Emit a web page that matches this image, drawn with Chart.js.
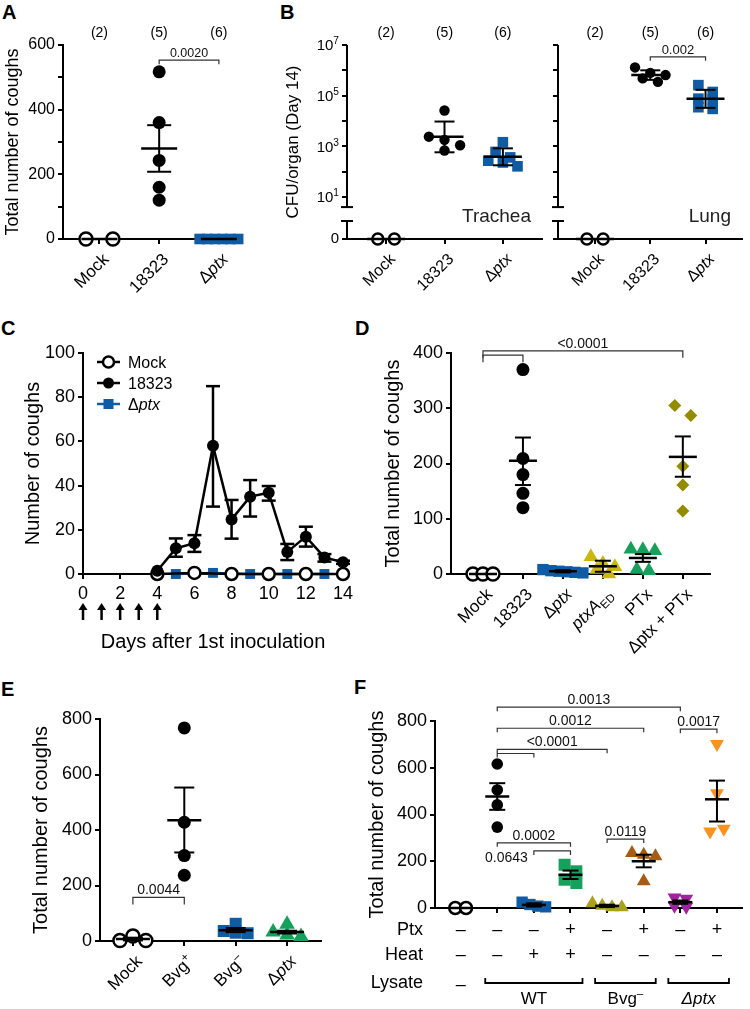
<!DOCTYPE html>
<html>
<head>
<meta charset="utf-8">
<script src="https://cdn.jsdelivr.net/npm/chart.js@4/dist/chart.umd.min.js"></script>
<style>
  body { margin: 0; background: #fff; width: 750px; height: 1009px; position: relative; overflow: hidden; font-family: 'Liberation Sans', Arial, sans-serif; }
  canvas { position: absolute; }
  .panel { position: absolute; font-weight: bold; font-size: 20px; line-height: 1; }
</style>
</head>
<body>
<div class="panel" style="left:2px;top:2px">A</div>
<div class="panel" style="left:280px;top:2px">B</div>
<div class="panel" style="left:1px;top:318px">C</div>
<div class="panel" style="left:355px;top:318px">D</div>
<div class="panel" style="left:1px;top:679px">E</div>
<div class="panel" style="left:354px;top:677px">F</div>

<canvas id="chartA" width="250" height="330" style="left:0;top:0"></canvas>
<canvas id="chartB1" width="310" height="330" style="left:240px;top:0"></canvas>
<canvas id="chartB2" width="200" height="330" style="left:550px;top:0"></canvas>
<canvas id="chartC" width="370" height="330" style="left:0;top:330px"></canvas>
<canvas id="chartD" width="380" height="340" style="left:370px;top:330px"></canvas>
<canvas id="chartE" width="330" height="359" style="left:0;top:650px"></canvas>
<canvas id="chartF" width="410" height="359" style="left:340px;top:650px"></canvas>

<script>
// ---------- data ----------

// A: total coughs per rat
const aGroups = ['Mock', '18323', 'Δ*ptx*'];
const aCounts = ['(2)', '(5)', '(6)'];
const aMock = [0, 0];
const a18323 = [517, 360, 243, 160, 120];
const aDptx = [0, 0, 0, 0, 0, 0];
const aMean = [0, 280, 0];
const aHigh = [0, 352, 0];
const aLow = [0, 208, 0];
const aYTicks = [0, 100, 200, 300, 400, 500, 600];
const aPValues = [{ from: 1, to: 2, at: 553, text: '0.0020' }];

// B: CFU per organ on day 14 (0 = below detection, drawn on the broken part of the axis)
const bGroups = ['Mock', '18323', 'Δ*ptx*'];
const bCounts = ['(2)', '(5)', '(6)'];
const bTracheaMock = [0, 0];
const bTrachea18323 = [26000, 2400, 1800, 1100, 680];
const bTracheaDptx = [1450, 600, 365, 270, 230, 162];
const bTracheaMean = [0, 2400, 390];
const bTracheaHigh = [0, 9500, 830];
const bTracheaLow = [0, 580, 178];
const bLungMock = [0, 0];
const bLung18323 = [1300000, 790000, 650000, 480000, 350000];
const bLungDptx = [260000, 140000, 76000, 70000, 35000, 30000];
const bLungMean = [0, 650000, 76000];
const bLungHigh = [0, 1000000, 170000];
const bLungLow = [0, 420000, 33000];
const bExpTicks = [1, 2, 3, 4, 5, 6, 7];
const bExpLabels = { 1: '10^{1}', 3: '10^{3}', 5: '10^{5}', 7: '10^{7}' };
const bLungPValues = [{ from: 1, to: 2, at: 3400000, text: '0.002' }];

// C: daily coughs
const cMockDays = [4, 6, 8, 10, 12, 14];
const cMock = [0, 0.5, 0, 0, 0, 0];
const c18323Days = [4, 5, 6, 7, 8, 9, 10, 11, 12, 13, 14];
const c18323 = [1.5, 11.6, 13.9, 58, 24.7, 35, 36.8, 10, 16.9, 7.5, 5.3];
const c18323High = [2, 16.1, 17.6, 85, 33.5, 42.5, 39.8, 13.6, 21.4, 9, 6];
const c18323Low = [1, 7.8, 10, 30.5, 16, 26, 33.2, 6.3, 12.4, 5.6, 4.6];
const cDptxDays = [5, 7, 9, 11, 13];
const cDptx = [0, 0.5, 0, 0, 0];
const cInoculationDays = [0, 1, 2, 3, 4];

// D
const dGroups = ['Mock', '18323', 'Δ*ptx*', '*ptxA*_{ED}', 'PTx', 'Δptx + PTx'];
const dMock = [0, 0, 0];
const d18323 = [370, 209, 180, 146, 120];
const dDptx = [8, 6, 5, 4, 3, 2];
const dPtxAed = [31, 19, 13, 8, 0];
const dPTx = [45, 44, 42, 8, 6];
const dDptxPTx = [305, 287, 195, 161, 114];
const dMean = [0, 205, 5, 14, 29, 212];
const dHigh = [0, 247, 7, 24, 36, 249];
const dLow = [0, 161, 3, 4, 22, 176];
const dYTicks = [0, 100, 200, 300, 400];
const dPValues = [
  { from: 0, to: 5, at: 404, text: '<0.0001' },
  { from: 0, to: 1, at: 396, text: '' }
];

// E
const eGroups = ['Mock', 'Bvg^{+}', 'Bvg^{–}', 'Δ*ptx*'];
const eMock = [2, 18, 2];
const eBvgPlus = [768, 428, 308, 237];
const eBvgMinus = [62, 36, 30, 28];
const eDptx = [60, 32, 22, 16];
const eMean = [7, 435, 39, 32];
const eHigh = [12, 553, 47, 37];
const eLow = [2, 319, 32, 27];
const eYTicks = [0, 200, 400, 600, 800];
const ePValues = [{ from: 0, to: 1, at: 157, text: '0.0044' }];

// F
const fMock = [0, 0];
const fWT = [616, 505, 441, 346];
const fWTHeat = [25, 15, 8, 5];
const fWTHeatPtx = [185, 157, 121, 107];
const fBvgMinus = [20, 10, 3, 3];
const fBvgMinusPtx = [235, 228, 221, 114];
const fDptx = [45, 40, 10, 5];
const fDptxPtx = [702, 491, 327, 339];
const fMean = [0, 477, 13, 142, 9, 200, 25, 465];
const fHigh = [0, 534, 20, 160, 14, 228, 32, 545];
const fLow = [0, 420, 6, 124, 4, 174, 18, 370];
const fYTicks = [0, 200, 400, 600, 800];
const fPtx = ['–', '–', '–', '+', '–', '+', '–', '+'];
const fHeat = ['–', '–', '+', '+', '–', '–', '–', '–'];
const fLysate = [
  { text: '–', from: 0, to: 0 },
  { text: 'WT', from: 1, to: 3 },
  { text: 'Bvg^{–}', from: 4, to: 5 },
  { text: '*Δptx*', from: 6, to: 7 }
];
const fPValues = [
  { from: 1, to: 6, at: 859, text: '0.0013' },
  { from: 1, to: 5, at: 769, text: '0.0012' },
  { from: 1, to: 4, at: 679, text: '<0.0001' },
  { from: 1, to: 2, at: 661, text: '' },
  { from: 6, to: 7, at: 765, text: '0.0017' },
  { from: 1, to: 3, at: 279, text: '0.0002' },
  { from: 2, to: 3, at: 244, text: '0.0643', side: 'left' },
  { from: 4, to: 5, at: 295, text: '0.0119' }
];

// ---------- styling ----------
const FONT = "'Liberation Sans', Arial, Helvetica, sans-serif";
const BLACK = '#000';
const BLUE = '#0f5ca5';
const GREEN = '#15a05b';
const YELLOW = '#cbb80e';
const OLIVE = '#948c00';
const OLIVE2 = '#aba21c';
const BROWN = '#a65c14';
const PURPLE = '#a0239f';
const ORANGE = '#f7931e';

Chart.defaults.font.family = FONT;
Chart.defaults.color = BLACK;

const ZERO_LOG = -0.66; // axis position of "0" below the log break
function logOrZero(v) { return v > 0 ? Math.log10(v) : ZERO_LOG; }

// tiny markup: *italic*, _{sub}, ^{sup}
function parseRich(s) {
  const parts = [];
  const re = /\*([^*]+)\*|_\{([^}]+)\}|\^\{([^}]+)\}|([^*_^]+)/g;
  let m;
  while ((m = re.exec(s))) {
    if (m[1]) parts.push({ t: m[1], italic: true });
    else if (m[2]) parts.push({ t: m[2], sub: true });
    else if (m[3]) parts.push({ t: m[3], sup: true });
    else parts.push({ t: m[4] });
  }
  return parts;
}

function drawRich(ctx, s, x, y, size, align) {
  const parts = parseRich(s);
  let total = 0;
  const runs = parts.map(p => {
    const sz = (p.sub || p.sup) ? size * 0.68 : size;
    const font = (p.italic ? 'italic ' : '') + sz + 'px ' + FONT;
    ctx.font = font;
    const w = ctx.measureText(p.t).width;
    total += w;
    return { font, w, dy: p.sub ? size * 0.25 : (p.sup ? -size * 0.4 : 0) };
  });
  let cx = align === 'right' ? x - total : (align === 'center' ? x - total / 2 : x);
  ctx.textAlign = 'left';
  parts.forEach((p, i) => {
    ctx.font = runs[i].font;
    ctx.fillText(p.t, cx, y + runs[i].dy);
    cx += runs[i].w;
  });
}

function line(ctx, x1, y1, x2, y2) {
  ctx.beginPath();
  ctx.moveTo(x1, y1);
  ctx.lineTo(x2, y2);
  ctx.stroke();
}

// spread points with near-equal values side by side
function rowOffsets(vals, pxPerY, gap, step) {
  const order = vals.map((v, i) => i).sort((a, b) => vals[b] - vals[a]);
  const offs = vals.map(() => 0);
  let row = [];
  const flush = () => {
    row.sort((a, b) => a - b);
    row.forEach((k, j) => { offs[k] = (j - (row.length - 1) / 2) * step; });
    row = [];
  };
  order.forEach(k => {
    if (row.length && (vals[row[0]] - vals[k]) * pxPerY > gap) flush();
    row.push(k);
  });
  flush();
  return offs;
}

function gridOpts() {
  return { drawOnChartArea: false, drawTicks: true, tickLength: 5, color: BLACK, lineWidth: 2 };
}

function drawBrackets(ctx, chart, list, tf, size, tick) {
  const xs = chart.scales.x, ys = chart.scales.y;
  ctx.save();
  ctx.strokeStyle = '#333';
  ctx.fillStyle = '#111';
  ctx.lineWidth = 1.2;
  list.forEach(b => {
    const x1 = xs.getPixelForValue(b.from), x2 = xs.getPixelForValue(b.to);
    const y = ys.getPixelForValue(tf(b.at));
    ctx.beginPath();
    ctx.moveTo(x1, y + tick);
    ctx.lineTo(x1, y);
    ctx.lineTo(x2, y);
    ctx.lineTo(x2, y + tick);
    ctx.stroke();
    if (!b.text) return;
    ctx.font = size + 'px ' + FONT;
    if (b.side === 'left') {
      ctx.textAlign = 'right';
      ctx.textBaseline = 'middle';
      ctx.fillText(b.text, x1 - 6, y + 7);
    } else {
      ctx.textAlign = 'center';
      ctx.textBaseline = 'alphabetic';
      ctx.fillText(b.text, (x1 + x2) / 2, y - 3);
    }
  });
  ctx.restore();
}

function dotExtras(s) {
  const tf = s.transform || (v => v);
  return {
    id: 'dotExtras',
    afterDatasetsDraw(chart) {
      const ctx = chart.ctx, xs = chart.scales.x, ys = chart.scales.y;
      ctx.save();
      ctx.strokeStyle = BLACK;
      s.mean.forEach((m, i) => {
        const x = xs.getPixelForValue(i);
        const ym = ys.getPixelForValue(tf(m));
        ctx.lineWidth = 2.5;
        line(ctx, x - s.meanHalf, ym, x + s.meanHalf, ym);
        if (s.high[i] !== s.low[i]) {
          const yh = ys.getPixelForValue(tf(s.high[i]));
          const yl = ys.getPixelForValue(tf(s.low[i]));
          ctx.lineWidth = 2;
          line(ctx, x, yh, x, yl);
          line(ctx, x - s.capHalf, yh, x + s.capHalf, yh);
          line(ctx, x - s.capHalf, yl, x + s.capHalf, yl);
        }
      });
      ctx.restore();
    },
    afterDraw(chart) {
      const ctx = chart.ctx, xs = chart.scales.x, ys = chart.scales.y;
      const area = chart.chartArea;
      ctx.save();
      ctx.fillStyle = BLACK;
      ctx.textBaseline = 'alphabetic';
      if (s.showXLabels !== false) {
        s.groups.forEach((g, i) => {
          ctx.save();
          ctx.translate(xs.getPixelForValue(i) + 6, area.bottom + 17);
          ctx.rotate(-Math.PI / 4);
          drawRich(ctx, g, 0, s.labelSize * 0.35, s.labelSize, 'right');
          ctx.restore();
        });
      }
      if (s.expLabels) {
        // 10^n labels for the log axis, drawn with real superscripts
        Object.keys(s.expLabels).forEach(k => {
          const y = ys.getPixelForValue(Number(k));
          drawRich(ctx, s.expLabels[k], area.left - 8, y + s.tickSize * 0.36, s.tickSize, 'right');
        });
      }
      if (s.counts) {
        ctx.font = '14px ' + FONT;
        ctx.textAlign = 'center';
        ctx.textBaseline = 'middle';
        s.counts.forEach((c, i) => ctx.fillText(c, xs.getPixelForValue(i), area.top - 12));
      }
      if (s.brokenAxis) {
        const x = area.left;
        const yBreakTop = ys.getPixelForValue(0.6), yBreakLow = ys.getPixelForValue(0.05);
        ctx.strokeStyle = BLACK;
        ctx.lineWidth = 2;
        line(ctx, x, area.top, x, yBreakTop);
        line(ctx, x, yBreakLow, x, area.bottom + 1);
        line(ctx, x - 6, yBreakTop, x + 6, yBreakTop);
        line(ctx, x - 6, yBreakLow, x + 6, yBreakLow);
      }
      if (s.organ) {
        ctx.font = '19px ' + FONT;
        ctx.textAlign = 'right';
        ctx.textBaseline = 'middle';
        ctx.fillStyle = '#222';
        ctx.fillText(s.organ, area.right - 11, area.bottom - 22);
      }
      ctx.restore();
      if (s.brackets) drawBrackets(ctx, chart, s.brackets, tf, s.pSize, s.bracketTick);
      if (s.extra) s.extra(chart);
    }
  };
}

function makeDotChart(id, s) {
  const canvas = document.getElementById(id);
  const W = canvas.width, H = canvas.height;
  const a = s.area;
  const tf = s.transform || (v => v);
  const pxX = (a.right - a.left) / (s.xMax - s.xMin);
  const pxY = (a.bottom - a.top) / (s.yMax - s.yMin);
  const datasets = s.sets.map((set, gi) => {
    const ys = set.values.map(tf);
    const offs = rowOffsets(ys, pxY, set.gap || s.rowGap, set.step || 12);
    return {
      data: ys.map((y, k) => ({ x: gi + offs[k] / pxX, y })),
      pointStyle: set.shape,
      pointRadius: set.radius,
      pointRotation: set.rotation || 0,
      pointBackgroundColor: set.open ? '#fff' : set.color,
      pointBorderColor: set.open ? BLACK : set.color,
      pointBorderWidth: set.open ? 2.5 : 0,
      showLine: false,
      clip: false
    };
  });
  const padL = s.yTitle ? s.titleX - s.titleSize * 0.6 : 0;
  return new Chart(canvas, {
    type: 'scatter',
    data: { datasets },
    options: {
      responsive: false,
      animation: false,
      events: [],
      layout: { padding: { left: padL, top: a.top, right: W - a.right, bottom: 0 } },
      plugins: { legend: { display: false }, tooltip: { enabled: false } },
      scales: {
        x: {
          type: 'linear', min: s.xMin, max: s.xMax,
          afterBuildTicks: sc => { sc.ticks = s.groups.map((g, i) => ({ value: i })); },
          afterFit: sc => { sc.height = H - a.bottom; },
          ticks: { display: false },
          grid: gridOpts(),
          border: { color: BLACK, width: 2 }
        },
        y: {
          min: s.yMin, max: s.yMax,
          afterBuildTicks: sc => { sc.ticks = s.yTicks.map(v => ({ value: v })); },
          afterFit: sc => { sc.width = a.left - padL; },
          ticks: {
            display: s.showYLabels !== false,
            font: { size: s.tickSize }, color: BLACK, padding: 3,
            callback: s.yLabel || (v => String(v))
          },
          grid: gridOpts(),
          border: { display: !s.brokenAxis, color: BLACK, width: 2 },
          title: {
            display: !!s.yTitle, text: s.yTitle || '',
            font: { size: s.titleSize || 12 }, color: BLACK, padding: 0
          }
        }
      }
    },
    plugins: [dotExtras(s)]
  });
}

// ---------- A ----------
makeDotChart('chartA', {
  groups: aGroups, counts: aCounts,
  sets: [
    { values: aMock, shape: 'circle', radius: 6.5, open: true, step: 28 },
    { values: a18323, shape: 'circle', radius: 6.5, color: BLACK, step: 13 },
    { values: aDptx, shape: 'rect', radius: 7.5, color: BLUE, step: 8 }
  ],
  mean: aMean, high: aHigh, low: aLow, meanHalf: 18, capHalf: 12,
  area: { left: 63, top: 45, right: 248, bottom: 239 },
  xMin: -0.61, xMax: 2.37, yMin: 0, yMax: 600, yTicks: aYTicks,
  yLabel: v => (v % 200 === 0 ? String(v) : ''),
  yTitle: 'Total number of coughs', titleX: 13, titleSize: 18, tickSize: 16, labelSize: 17,
  rowGap: 12, brackets: aPValues, pSize: 12.5, bracketTick: 4
});

// ---------- B ----------
const bTicks = [ZERO_LOG].concat(bExpTicks);
const bLabel = v => (v === ZERO_LOG ? '0' : '');
makeDotChart('chartB1', {
  groups: bGroups, counts: bCounts, organ: 'Trachea', transform: logOrZero, brokenAxis: true,
  sets: [
    { values: bTracheaMock, shape: 'circle', radius: 5.5, open: true, step: 17 },
    { values: bTrachea18323, shape: 'circle', radius: 5.2, color: BLACK, step: 16, gap: 10 },
    { values: bTracheaDptx, shape: 'rect', radius: 7.5, color: BLUE, step: 15, gap: 8 }
  ],
  mean: bTracheaMean, high: bTracheaHigh, low: bTracheaLow, meanHalf: 19, capHalf: 10,
  area: { left: 107, top: 45, right: 307, bottom: 239 },
  xMin: -0.67, xMax: 2.67, yMin: ZERO_LOG, yMax: 7, yTicks: bTicks, yLabel: bLabel,
  expLabels: bExpLabels,
  yTitle: 'CFU/organ (Day 14)', titleX: 53, titleSize: 17, tickSize: 15, labelSize: 16,
  rowGap: 10
});
makeDotChart('chartB2', {
  groups: bGroups, counts: bCounts, organ: 'Lung', transform: logOrZero, brokenAxis: true,
  sets: [
    { values: bLungMock, shape: 'circle', radius: 5.5, open: true, step: 17 },
    { values: bLung18323, shape: 'circle', radius: 5.2, color: BLACK, step: 16 },
    { values: bLungDptx, shape: 'rect', radius: 7.5, color: BLUE, step: 15, gap: 8 }
  ],
  mean: bLungMean, high: bLungHigh, low: bLungLow, meanHalf: 19, capHalf: 10,
  area: { left: 5, top: 45, right: 198, bottom: 239 },
  xMin: -0.67, xMax: 2.66, yMin: ZERO_LOG, yMax: 7, yTicks: bTicks, showYLabels: false,
  tickSize: 15, labelSize: 16, rowGap: 10,
  brackets: bLungPValues, pSize: 13, bracketTick: 4
});

// ---------- C ----------
function xy(days, vals) { return days.map((d, i) => ({ x: d, y: vals[i] })); }

const timelineExtras = {
  id: 'timelineExtras',
  afterDatasetsDraw(chart) {
    const ctx = chart.ctx, xs = chart.scales.x, ys = chart.scales.y;
    ctx.save();
    ctx.strokeStyle = BLACK;
    ctx.lineWidth = 2.5;
    c18323Days.forEach((d, i) => {
      const x = xs.getPixelForValue(d);
      const yh = ys.getPixelForValue(c18323High[i]);
      const yl = ys.getPixelForValue(c18323Low[i]);
      if (yl - yh < 3) return;
      line(ctx, x, yh, x, yl);
      line(ctx, x - 7, yh, x + 7, yh);
      line(ctx, x - 7, yl, x + 7, yl);
    });
    ctx.restore();
  },
  afterDraw(chart) {
    const ctx = chart.ctx, xs = chart.scales.x, area = chart.chartArea;
    ctx.save();
    // inoculation arrows
    ctx.strokeStyle = BLACK;
    ctx.fillStyle = BLACK;
    ctx.lineWidth = 2.5;
    cInoculationDays.forEach(d => {
      const x = xs.getPixelForValue(d);
      const top = area.bottom + 29, bottom = area.bottom + 46;
      line(ctx, x, top + 5, x, bottom);
      ctx.beginPath();
      ctx.moveTo(x, top);
      ctx.lineTo(x - 4.5, top + 7);
      ctx.lineTo(x + 4.5, top + 7);
      ctx.closePath();
      ctx.fill();
    });
    // legend
    const order = [1, 0, 2];
    order.forEach((di, row) => {
      const ds = chart.data.datasets[di];
      const y = area.top + 9 + row * 21;
      const x0 = area.left + 14, x1 = area.left + 37, xm = (x0 + x1) / 2;
      ctx.strokeStyle = ds.borderColor;
      ctx.lineWidth = 2.5;
      line(ctx, x0, y, x1, y);
      ctx.fillStyle = ds.pointBackgroundColor;
      ctx.strokeStyle = ds.pointBorderColor;
      if (ds.pointStyle === 'rect') {
        ctx.fillRect(xm - 5, y - 5, 10, 10);
      } else {
        ctx.beginPath();
        ctx.arc(xm, y, 5.5, 0, Math.PI * 2);
        ctx.fill();
        if (ds.pointBorderWidth) { ctx.lineWidth = ds.pointBorderWidth; ctx.stroke(); }
      }
      ctx.fillStyle = BLACK;
      ctx.textBaseline = 'alphabetic';
      drawRich(ctx, ds.label, area.left + 45, y + 6, 16, 'left');
    });
    ctx.restore();
  }
};

new Chart(document.getElementById('chartC'), {
  type: 'line',
  data: {
    datasets: [
      { label: '18323', data: xy(c18323Days, c18323), borderColor: BLACK, borderWidth: 2.5,
        pointStyle: 'circle', pointRadius: 6, pointBackgroundColor: BLACK, pointBorderColor: BLACK,
        pointBorderWidth: 0, clip: false },
      { label: 'Mock', data: xy(cMockDays, cMock), borderColor: BLACK, borderWidth: 2.5,
        pointStyle: 'circle', pointRadius: 6, pointBackgroundColor: '#fff', pointBorderColor: BLACK,
        pointBorderWidth: 2.5, clip: false },
      { label: 'Δ*ptx*', data: xy(cDptxDays, cDptx), borderColor: BLUE, borderWidth: 2.5,
        pointStyle: 'rect', pointRadius: 7, pointBackgroundColor: BLUE, pointBorderColor: BLUE,
        pointBorderWidth: 0, clip: false }
    ]
  },
  options: {
    responsive: false,
    animation: false,
    events: [],
    layout: { padding: { left: 21, top: 23, right: 27, bottom: 0 } },
    plugins: { legend: { display: false }, tooltip: { enabled: false } },
    scales: {
      x: {
        type: 'linear', min: 0, max: 14,
        afterFit: sc => { sc.height = 86; },
        ticks: { stepSize: 2, font: { size: 18 }, color: BLACK, padding: 4, maxRotation: 0 },
        grid: gridOpts(),
        border: { color: BLACK, width: 2 },
        title: { display: true, text: 'Days after 1st inoculation', font: { size: 20 }, color: BLACK,
                 padding: { top: 0, bottom: 6 } }
      },
      y: {
        min: 0, max: 100,
        afterFit: sc => { sc.width = 62; },
        ticks: { stepSize: 20, font: { size: 18 }, color: BLACK, padding: 3 },
        grid: gridOpts(),
        border: { color: BLACK, width: 2 },
        title: { display: true, text: 'Number of coughs', font: { size: 20 }, color: BLACK, padding: 0 }
      }
    }
  },
  plugins: [timelineExtras]
});

// ---------- D ----------
makeDotChart('chartD', {
  groups: dGroups,
  sets: [
    { values: dMock, shape: 'circle', radius: 6.5, open: true, step: 10 },
    { values: d18323, shape: 'circle', radius: 6.5, color: BLACK, step: 13 },
    { values: dDptx, shape: 'rect', radius: 8, color: BLUE, step: 8 },
    { values: dPtxAed, shape: 'triangle', radius: 8.5, color: YELLOW, step: 12 },
    { values: dPTx, shape: 'triangle', radius: 8.5, color: GREEN, step: 12 },
    { values: dDptxPTx, shape: 'rectRot', radius: 6.5, color: OLIVE, step: 16 }
  ],
  mean: dMean, high: dHigh, low: dLow, meanHalf: 14, capHalf: 8,
  area: { left: 81, top: 23, right: 340, bottom: 244 },
  xMin: -0.8, xMax: 5.68, yMin: 0, yMax: 400, yTicks: dYTicks,
  yTitle: 'Total number of coughs', titleX: 23, titleSize: 20, tickSize: 18, labelSize: 17,
  rowGap: 10, brackets: dPValues, pSize: 14, bracketTick: 7
});

// ---------- E ----------
makeDotChart('chartE', {
  groups: eGroups,
  sets: [
    { values: eMock, shape: 'circle', radius: 6.5, open: true, step: 13 },
    { values: eBvgPlus, shape: 'circle', radius: 6.5, color: BLACK, step: 13 },
    { values: eBvgMinus, shape: 'rect', radius: 8.5, color: BLUE, step: 12 },
    { values: eDptx, shape: 'triangle', radius: 9, color: GREEN, step: 14 }
  ],
  mean: eMean, high: eHigh, low: eLow, meanHalf: 17, capHalf: 10,
  area: { left: 100, top: 69, right: 322, bottom: 291 },
  xMin: -0.64, xMax: 3.66, yMin: 0, yMax: 800, yTicks: eYTicks,
  yTitle: 'Total number of coughs', titleX: 41, titleSize: 20, tickSize: 18, labelSize: 17,
  rowGap: 7, brackets: ePValues, pSize: 14, bracketTick: 7
});

// ---------- F ----------
function drawTreatmentRows(chart) {
  const ctx = chart.ctx, xs = chart.scales.x, area = chart.chartArea;
  ctx.save();
  ctx.fillStyle = BLACK;
  ctx.font = '18px ' + FONT;
  ctx.textBaseline = 'middle';
  ctx.textAlign = 'right';
  ctx.fillText('Ptx', area.left - 12, area.bottom + 22);
  ctx.fillText('Heat', area.left - 12, area.bottom + 47);
  ctx.fillText('Lysate', area.left - 12, area.bottom + 75);
  ctx.textAlign = 'center';
  fPtx.forEach((t, i) => ctx.fillText(t, xs.getPixelForValue(i), area.bottom + 22));
  fHeat.forEach((t, i) => ctx.fillText(t, xs.getPixelForValue(i), area.bottom + 47));
  ctx.strokeStyle = BLACK;
  ctx.lineWidth = 1.8;
  fLysate.forEach(g => {
    const x1 = xs.getPixelForValue(g.from), x2 = xs.getPixelForValue(g.to);
    if (g.from === g.to) {
      ctx.font = '18px ' + FONT;
      ctx.textAlign = 'center';
      ctx.fillText(g.text, x1, area.bottom + 77);
      return;
    }
    const y = area.bottom + 75;
    ctx.beginPath();
    ctx.moveTo(x1 - 12, y - 5);
    ctx.lineTo(x1 - 12, y);
    ctx.lineTo(x2 + 12, y);
    ctx.lineTo(x2 + 12, y - 5);
    ctx.stroke();
    ctx.textBaseline = 'alphabetic';
    drawRich(ctx, g.text, (x1 + x2) / 2, area.bottom + 96, 17, 'center');
    ctx.textBaseline = 'middle';
  });
  ctx.restore();
}

makeDotChart('chartF', {
  groups: fPtx, showXLabels: false,
  sets: [
    { values: fMock, shape: 'circle', radius: 6, open: true, step: 11 },
    { values: fWT, shape: 'circle', radius: 5.8, color: BLACK, step: 12 },
    { values: fWTHeat, shape: 'rect', radius: 8, color: BLUE, step: 8 },
    { values: fWTHeatPtx, shape: 'rect', radius: 8.5, color: GREEN, step: 12 },
    { values: fBvgMinus, shape: 'triangle', radius: 8, color: OLIVE2, step: 10 },
    { values: fBvgMinusPtx, shape: 'triangle', radius: 8, color: BROWN, step: 12 },
    { values: fDptx, shape: 'triangle', radius: 8, rotation: 180, color: PURPLE, step: 12 },
    { values: fDptxPtx, shape: 'triangle', radius: 8, rotation: 180, color: ORANGE, step: 14 }
  ],
  mean: fMean, high: fHigh, low: fLow, meanHalf: 12, capHalf: 8,
  area: { left: 95, top: 71, right: 408, bottom: 258 },
  xMin: -0.7, xMax: 7.67, yMin: 0, yMax: 800, yTicks: fYTicks,
  yTitle: 'Total number of coughs', titleX: 37, titleSize: 20, tickSize: 18,
  rowGap: 8, brackets: fPValues, pSize: 14, bracketTick: 4,
  extra: drawTreatmentRows
});
</script>
</body>
</html>
